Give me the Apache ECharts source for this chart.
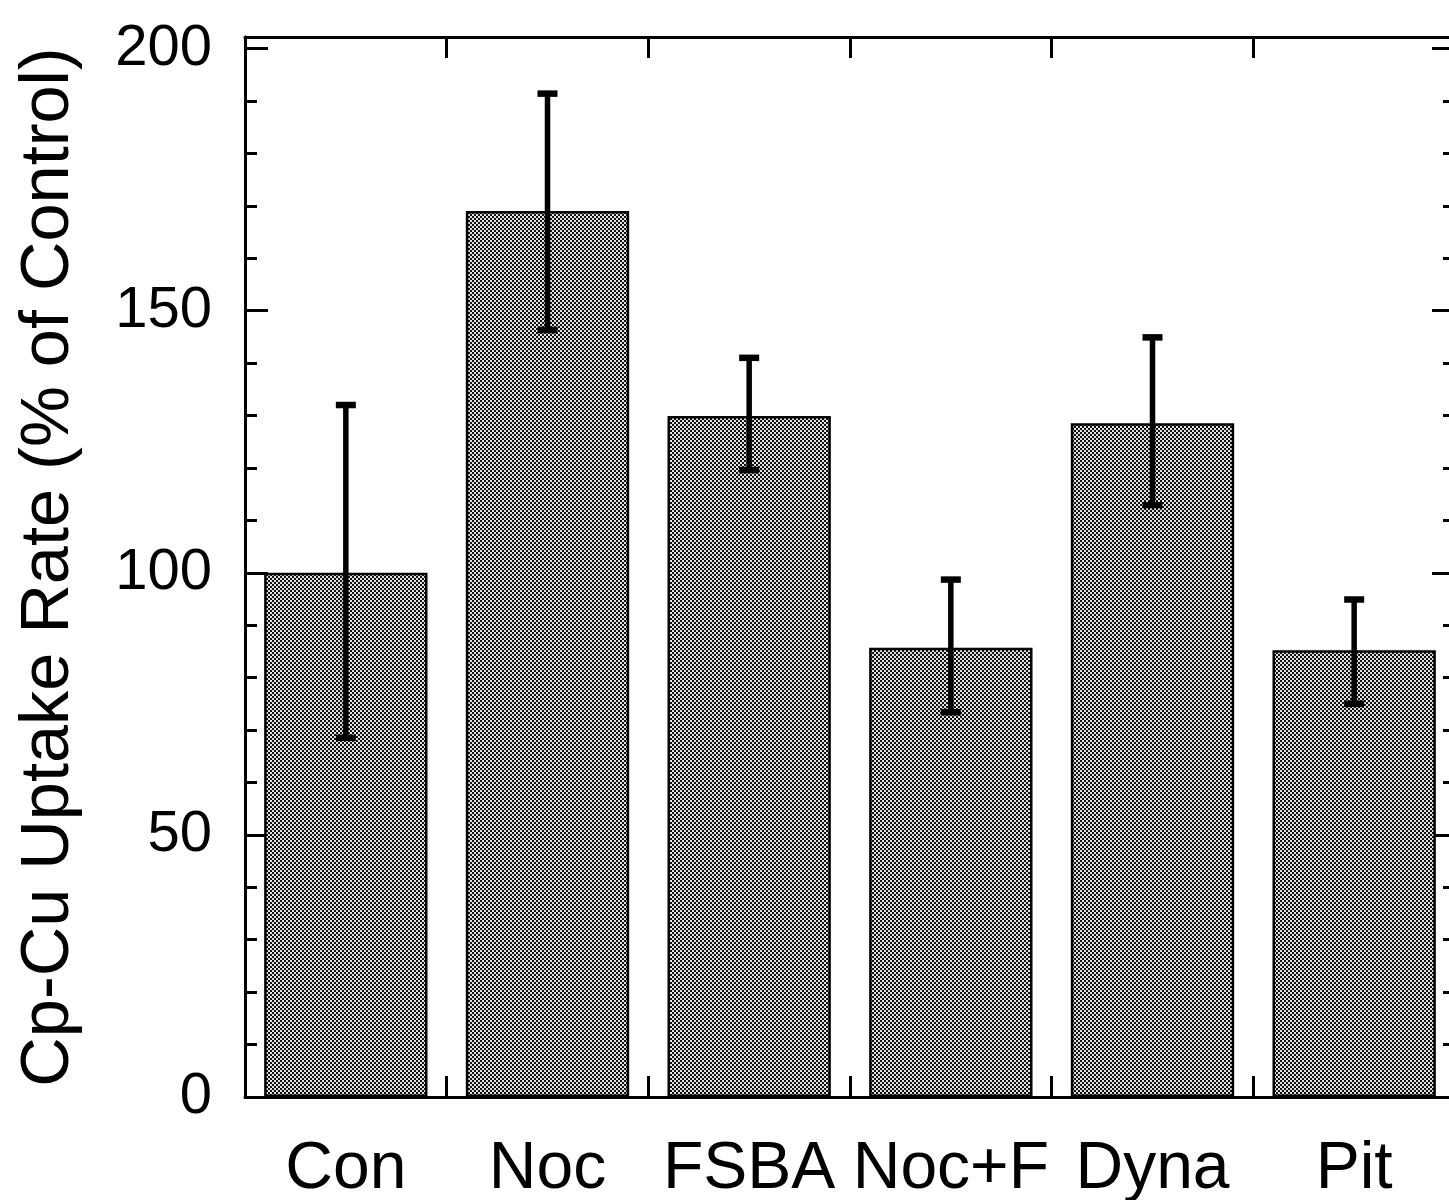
<!DOCTYPE html>
<html>
<head>
    <meta charset="utf-8">
    <title>Cp-Cu Uptake Rate</title>
    <script type="text/javascript" src="https://cdn.jsdelivr.net/npm/echarts@6/dist/echarts.min.js"></script>
    <style>
        html, body { margin: 0; padding: 0; background: #fff; }
    </style>
</head>
<body>
<div id="main" style="width: 1449px;height:1200px;"></div>

<script type="text/javascript">
    // data
    var categories = ['Con', 'Noc', 'FSBA', 'Noc+F', 'Dyna', 'Pit'];
    var uptake = [100, 169.0, 129.9, 85.7, 128.5, 85.2];
    var errLow = [68.5, 146.3, 119.6, 73.4, 112.9, 75.0];
    var errHigh = [132.0, 191.4, 141.0, 98.7, 144.9, 94.9];

    var yMin = 0, yMax = 202.2;
    var FONT = '"Liberation Sans", Arial, Helvetica, sans-serif';

    // checker fill like the printed bars
    var tile = document.createElement('canvas');
    tile.width = 4; tile.height = 4;
    var tctx = tile.getContext('2d');
    tctx.fillStyle = '#e2e2e2';
    tctx.fillRect(0, 0, 4, 4);
    tctx.fillStyle = '#111';
    tctx.fillRect(0, 0, 2, 2);
    tctx.fillRect(2, 2, 2, 2);

    var errData = categories.map(function (c, i) {
        return [i, errLow[i], errHigh[i]];
    });

    var chart = echarts.init(document.getElementById('main'));

    // y axes: major/minor ticks on both sides
    function yAx(pos, interval, len, withLabels) {
        return {
            type: 'value',
            position: pos,
            min: yMin,
            max: yMax,
            interval: interval,
            splitLine: { show: false },
            axisLine: { show: true, onZero: false, lineStyle: { color: '#000', width: 3 } },
            axisTick: { show: true, inside: true, length: len, lineStyle: { color: '#000', width: 3 } },
            axisLabel: {
                show: withLabels,
                color: '#000',
                fontFamily: FONT,
                fontSize: 58,
                margin: 33,
                formatter: function (v) { return v % 50 === 0 ? String(v) : ''; }
            }
        };
    }

    var left = yAx('left', 50, 23, true);
    left.name = 'Cp-Cu Uptake Rate (% of Control)';
    left.nameLocation = 'middle';
    left.nameGap = 161;
    left.nameTextStyle = { color: '#000', fontFamily: FONT, fontSize: 68.5 };

    function xAx(pos, withLabels) {
        return {
            type: 'category',
            data: categories,
            position: pos,
            axisLine: { show: true, onZero: false, lineStyle: { color: '#000', width: 3 } },
            axisTick: { show: true, inside: true, length: 21, lineStyle: { color: '#000', width: 3 } },
            axisLabel: { show: withLabels, color: '#000', fontFamily: FONT, fontSize: 66, margin: 40, interval: 0 }
        };
    }

    var option = {
        animation: false,
        backgroundColor: '#fff',
        // the right frame sits just past the picture edge
        grid: { left: 245, right: -6, top: 37, bottom: 103, containLabel: false, outerBoundsMode: 'none' },
        xAxis: [xAx('bottom', true), xAx('top', false)],
        yAxis: [
            left,
            yAx('left', 10, 12, false),
            yAx('right', 50, 23, false),
            yAx('right', 10, 12, false)
        ],
        series: [
            {
                type: 'bar',
                data: uptake,
                xAxisIndex: 0,
                yAxisIndex: 0,
                barCategoryGap: '19%',
                itemStyle: {
                    color: { image: tile, repeat: 'repeat' },
                    borderColor: '#000',
                    borderWidth: 2.5
                }
            },
            {
                type: 'custom',
                xAxisIndex: 0,
                yAxisIndex: 0,
                data: errData,
                z: 5,
                renderItem: function (params, api) {
                    var i = api.value(0);
                    var lo = api.coord([i, api.value(1)]);
                    var hi = api.coord([i, api.value(2)]);
                    var cap = 10;
                    var st = { stroke: '#000', lineWidth: 5.5 };
                    var capSt = { stroke: '#000', lineWidth: 6.5 };
                    return {
                        type: 'group',
                        children: [
                            { type: 'line', shape: { x1: hi[0], y1: hi[1], x2: lo[0], y2: lo[1] }, style: st },
                            { type: 'line', shape: { x1: hi[0] - cap, y1: hi[1], x2: hi[0] + cap, y2: hi[1] }, style: capSt },
                            { type: 'line', shape: { x1: lo[0] - cap, y1: lo[1], x2: lo[0] + cap, y2: lo[1] }, style: capSt }
                        ]
                    };
                }
            }
        ]
    };

    chart.setOption(option);
</script>
</body>
</html>
